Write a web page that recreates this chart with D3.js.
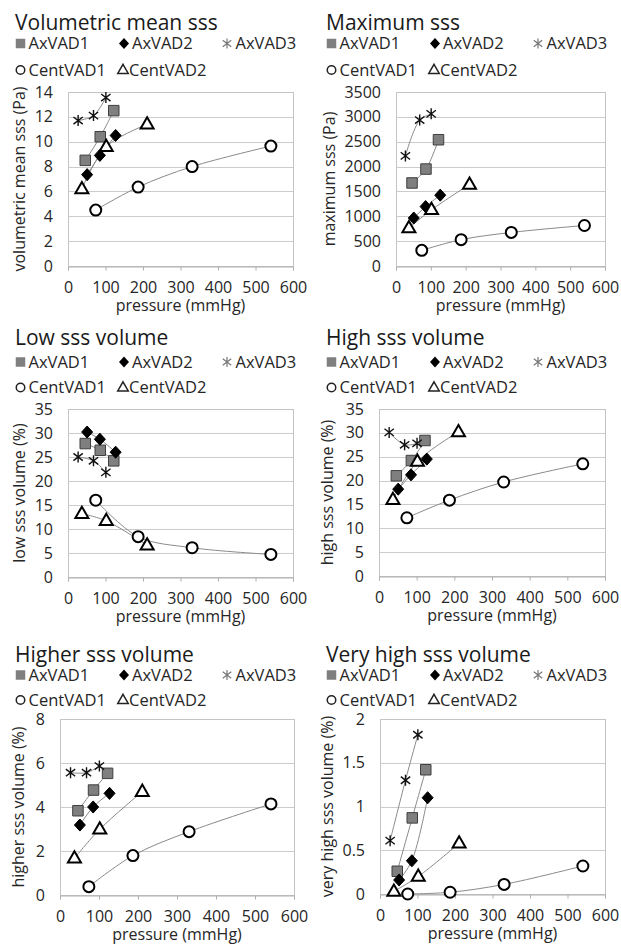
<!DOCTYPE html>
<html>
<head>
<meta charset="utf-8">
<script src="https://cdn.jsdelivr.net/npm/d3@7"></script>
<style>
  body { margin: 0; background: #fff; }
  text { font-family: "Open Sans", sans-serif; }
</style>
</head>
<body>
<div id="chart"></div>
<script>

//--------------------------------------------------------------------------
//
// data
//

// series, in legend order
var seriesNames = ["AxVAD1", "AxVAD2", "AxVAD3", "CentVAD1", "CentVAD2"];

// pressure (mmHg) of each operating point, per series
var pressures = [
    [46, 86, 122],
    [51, 85, 127],
    [27, 68, 101],
    [74, 187, 331, 541],
    [37, 102, 211]
];

// one array per chart, same order as seriesNames
var volumetricMean = [
    [8.5, 10.4, 12.5],
    [7.35, 8.9, 10.5],
    [11.7, 12.1, 13.55],
    [4.5, 6.35, 8.0, 9.65],
    [6.2, 9.6, 11.4]
];
var maximumSss = [
    [1670, 1950, 2540],
    [965, 1195, 1425],
    [2215, 2935, 3060],
    [315, 530, 675, 815],
    [765, 1130, 1640]
];
var lowVolume = [
    [27.8, 26.4, 24.2],
    [30.2, 28.7, 26.0],
    [25.0, 24.2, 21.8],
    [16.0, 8.4, 6.1, 4.7],
    [13.2, 11.7, 6.6]
];
var highVolume = [
    [21.0, 24.2, 28.4],
    [18.2, 21.2, 24.5],
    [30.1, 27.5, 27.8],
    [12.2, 15.9, 19.7, 23.5],
    [16.0, 24.0, 30.2]
];
var higherVolume = [
    [3.83, 4.77, 5.53],
    [3.18, 4.0, 4.62],
    [5.56, 5.56, 5.86],
    [0.38, 1.79, 2.88, 4.14],
    [1.67, 2.99, 4.7]
];
var veryHighVolume = [
    [0.26, 0.87, 1.42],
    [0.16, 0.38, 1.10],
    [0.61, 1.30, 1.82],
    [0.0, 0.02, 0.11, 0.32],
    [0.03, 0.20, 0.58]
];

// tick labels
var pressureTicks = [0, 100, 200, 300, 400, 500, 600];
var volumetricMeanTicks = [0, 2, 4, 6, 8, 10, 12, 14];
var maximumTicks = [0, 500, 1000, 1500, 2000, 2500, 3000, 3500];
var volumeTicks = [0, 5, 10, 15, 20, 25, 30, 35];
var higherTicks = [0, 2, 4, 6, 8];
var veryHighTicks = [0, 0.5, 1, 1.5, 2];

//--------------------------------------------------------------------------
//
// layout
//

var panels = [
    {title: "Volumetric mean sss", yLabel: "volumetric mean sss (Pa)", values: volumetricMean, yTicks: volumetricMeanTicks,
     x0: 15, labelX: 25, titleY: 29.5, legendY: [43.5, 70], plot: {left: 68, right: 293, top: 92, bottom: 266}},
    {title: "Maximum sss", yLabel: "maximum sss (Pa)", values: maximumSss, yTicks: maximumTicks,
     x0: 326, labelX: 335, titleY: 29.5, legendY: [43.5, 70], plot: {left: 396, right: 605, top: 92, bottom: 266}},
    {title: "Low sss volume", yLabel: "low sss volume (%)", values: lowVolume, yTicks: volumeTicks,
     x0: 15, labelX: 25, titleY: 345, legendY: [362, 387.5], plot: {left: 68, right: 293, top: 409, bottom: 577}},
    {title: "High sss volume", yLabel: "high sss volume (%)", values: highVolume, yTicks: volumeTicks,
     x0: 326, labelX: 333, titleY: 345, legendY: [362, 387.5], plot: {left: 379, right: 605, top: 409, bottom: 576}},
    {title: "Higher sss volume", yLabel: "higher sss volume (%)", values: higherVolume, yTicks: higherTicks,
     x0: 15, labelX: 24, titleY: 662, legendY: [675, 700], plot: {left: 60, right: 294, top: 719, bottom: 895}},
    {title: "Very high sss volume", yLabel: "very high sss volume (%)", values: veryHighVolume, yTicks: veryHighTicks,
     x0: 326, labelX: 333, titleY: 662, legendY: [675, 700], plot: {left: 380, right: 605, top: 719, bottom: 894}}
];

// marker look of each series
var markers = [
    {type: "square",   size: 10.5, fill: "#7f7f7f", stroke: "#3f3f3f", sw: 1,   legendSize: 9.5,  legendFill: "#7f7f7f", legendStroke: "none"},
    {type: "diamond",  size: 11,   fill: "#000",    stroke: "#000",    sw: 1,   legendSize: 10,   legendFill: "#000",    legendStroke: "none"},
    {type: "asterisk", size: 11,   fill: "none",    stroke: "#111",    sw: 1.4, legendSize: 10,   legendFill: "none",    legendStroke: "#777"},
    {type: "circle",   size: 11,   fill: "#fff",    stroke: "#000",    sw: 2,   legendSize: 8.5,  legendFill: "#fff",    legendStroke: "#222"},
    {type: "triangle", size: 13,   fill: "#fff",    stroke: "#000",    sw: 2,   legendSize: 10.5, legendFill: "#fff",    legendStroke: "#222"}
];

// legend slots: [row, marker offset, text offset] relative to panel x0
var legendSlots = [[0, 5.5, 13.5], [0, 109, 117], [0, 212, 220.5], [1, 5.5, 13.5], [1, 108, 114]];

var textColor = "#262626",
    gridColor = "#cccccc",
    lineColor = "#8a8a8a";

function markerPath(type, s) {
    var h = s / 2;
    if (type === "square") {
        return "M" + (-h) + "," + (-h) + "h" + s + "v" + s + "h" + (-s) + "Z";
    }
    if (type === "diamond") {
        return "M0," + (-h * 1.1) + "L" + h + ",0L0," + (h * 1.1) + "L" + (-h) + ",0Z";
    }
    if (type === "asterisk") {
        return "M0," + (-h) + "V" + h +
            "M" + (-h * 0.85) + "," + (-h * 0.65) + "L" + (h * 0.85) + "," + (h * 0.65) +
            "M" + (-h * 0.85) + "," + (h * 0.65) + "L" + (h * 0.85) + "," + (-h * 0.65);
    }
    if (type === "triangle") {
        var t = s * Math.sqrt(3) / 2;
        return "M0," + (-t * 0.62) + "L" + h + "," + (t * 0.38) + "L" + (-h) + "," + (t * 0.38) + "Z";
    }
    return d3.symbol(d3.symbolCircle, Math.PI * h * h)();
}

//--------------------------------------------------------------------------
//
// chart
//

var svg = d3.select("#chart").append("svg")
    .attr("width", 621)
    .attr("height", 944);

svg.append("rect")
    .attr("width", 621)
    .attr("height", 944)
    .attr("fill", "#fff");

panels.forEach(function (p) {
    var g = svg.append("g");
    var w = p.plot.right - p.plot.left,
        h = p.plot.bottom - p.plot.top;

    var x = d3.scaleLinear()
        .domain([pressureTicks[0], pressureTicks[pressureTicks.length - 1]])
        .range([p.plot.left, p.plot.right]);
    var y = d3.scaleLinear()
        .domain([p.yTicks[0], p.yTicks[p.yTicks.length - 1]])
        .range([p.plot.bottom, p.plot.top]);

    // title
    g.append("text")
        .attr("x", p.x0)
        .attr("y", p.titleY)
        .attr("font-size", 21)
        .attr("fill", "#1a1a1a")
        .text(p.title);

    // legend
    seriesNames.forEach(function (name, i) {
        var slot = legendSlots[i],
            m = markers[i],
            ly = p.legendY[slot[0]];
        g.append("path")
            .attr("d", markerPath(m.type, m.legendSize))
            .attr("transform", "translate(" + (p.x0 + slot[1]) + "," + ly + ")")
            .attr("fill", m.legendFill)
            .attr("stroke", m.legendStroke)
            .attr("stroke-width", m.type === "asterisk" ? 1.2 : 1.5);
        g.append("text")
            .attr("x", p.x0 + slot[2])
            .attr("y", ly)
            .attr("dy", "0.36em")
            .attr("font-size", 16.5)
            .attr("fill", textColor)
            .text(name);
    });

    // gridlines
    g.append("g").selectAll("line")
        .data(p.yTicks)
        .enter().append("line")
        .attr("x1", p.plot.left)
        .attr("x2", p.plot.right)
        .attr("y1", function (d) { return Math.round(y(d)) + 0.5; })
        .attr("y2", function (d) { return Math.round(y(d)) + 0.5; })
        .attr("stroke", gridColor);

    // plot border
    g.append("rect")
        .attr("x", p.plot.left + 0.5)
        .attr("y", p.plot.top + 0.5)
        .attr("width", w)
        .attr("height", h)
        .attr("fill", "none")
        .attr("stroke", "#c4c4c4");

    // axes
    var xAxis = g.append("g")
        .attr("transform", "translate(0," + (Math.round(p.plot.bottom) + 0.5) + ")")
        .call(d3.axisBottom(x).tickValues(pressureTicks).tickFormat(String).tickSize(4).tickPadding(11));
    var yAxis = g.append("g")
        .attr("transform", "translate(" + p.plot.left + ",0)")
        .call(d3.axisLeft(y).tickValues(p.yTicks).tickFormat(String).tickSize(0).tickPadding(15));

    [xAxis, yAxis].forEach(function (a) {
        a.select(".domain").attr("stroke", "#b0b0b0");
        a.selectAll(".tick line").attr("stroke", "#b0b0b0");
        a.selectAll(".tick text")
            .attr("font-family", "Open Sans, sans-serif")
            .attr("font-size", 16)
            .attr("fill", textColor);
    });
    yAxis.select(".domain").remove();

    // axis titles
    g.append("text")
        .attr("x", (p.plot.left + p.plot.right) / 2)
        .attr("y", p.plot.bottom + 45)
        .attr("text-anchor", "middle")
        .attr("font-size", 16)
        .attr("fill", textColor)
        .text("pressure (mmHg)");

    g.append("text")
        .attr("transform", "translate(" + p.labelX + "," + ((p.plot.top + p.plot.bottom) / 2) + ") rotate(-90)")
        .attr("text-anchor", "middle")
        .attr("font-size", 16)
        .attr("fill", textColor)
        .text(p.yLabel);

    // lines
    var line = d3.line()
        .x(function (d) { return x(d[0]); })
        .y(function (d) { return y(d[1]); })
        .curve(d3.curveCatmullRom.alpha(0.5));

    seriesNames.forEach(function (name, i) {
        var pts = d3.zip(pressures[i], p.values[i]);
        g.append("path")
            .datum(pts)
            .attr("d", line)
            .attr("fill", "none")
            .attr("stroke", lineColor)
            .attr("stroke-width", 1);
    });

    // markers
    seriesNames.forEach(function (name, i) {
        var m = markers[i],
            pts = d3.zip(pressures[i], p.values[i]);
        g.append("g").selectAll("path")
            .data(pts)
            .enter().append("path")
            .attr("d", markerPath(m.type, m.size))
            .attr("transform", function (d) { return "translate(" + x(d[0]) + "," + y(d[1]) + ")"; })
            .attr("fill", m.fill)
            .attr("stroke", m.stroke)
            .attr("stroke-width", m.sw);
    });
});

</script>
</body>
</html>
